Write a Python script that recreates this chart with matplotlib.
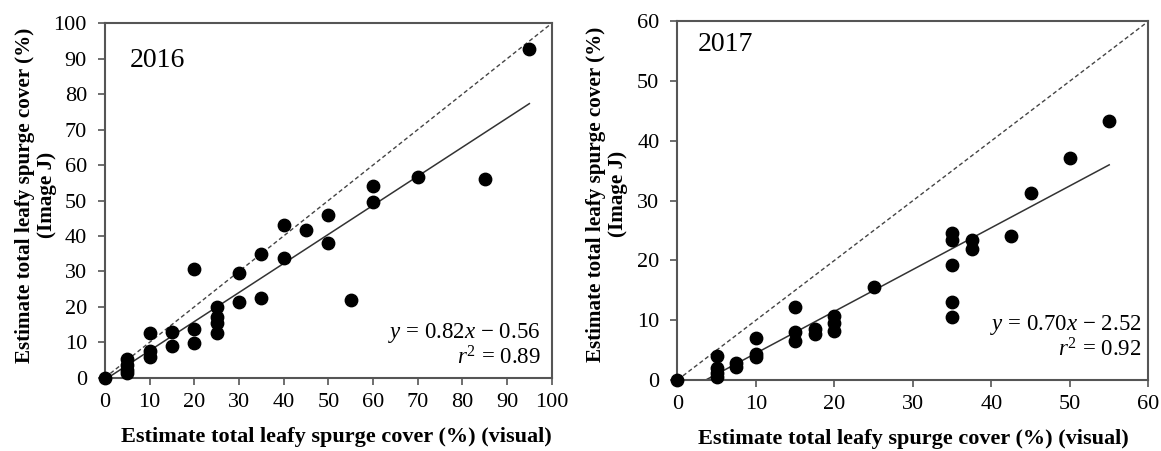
import numpy as np
import matplotlib.pyplot as plt

plt.rcParams['font.family'] = ['Liberation Serif', 'DejaVu Serif']
plt.rcParams['mathtext.fontset'] = 'custom'
plt.rcParams['mathtext.rm'] = 'Liberation Serif'
plt.rcParams['mathtext.it'] = 'Liberation Serif:italic'

# 2016 visual vs Image J estimates
x16 = [0, 5, 5, 5, 5, 10, 10, 10, 15, 15, 20, 20, 20, 25, 25, 25, 25, 30, 30,
       35, 35, 40, 40, 45, 50, 50, 55, 60, 60, 70, 85, 95]
y16 = [0, 5.2, 3.6, 2.2, 1.2, 12.7, 7.5, 5.8, 13.0, 8.9, 30.7, 13.7, 9.7,
       20.0, 17.2, 15.3, 12.7, 29.5, 21.4, 34.9, 22.6, 43.1, 33.9, 41.7,
       45.9, 38.1, 21.9, 54.1, 49.7, 56.5, 56.0, 92.7]

# 2017
x17 = [0, 5, 5, 5, 5, 7.5, 7.5, 10, 10, 10, 15, 15, 15, 17.5, 17.5, 20, 20, 20,
       25, 35, 35, 35, 35, 35, 37.5, 37.5, 42.5, 45, 50, 55]
y17 = [0, 4.0, 2.0, 1.2, 0.5, 2.9, 2.2, 7.0, 4.3, 3.8, 12.2, 8.1, 6.6, 8.6, 7.7,
       10.7, 9.5, 8.2, 15.5, 24.6, 23.4, 19.2, 13.1, 10.5, 23.4, 21.9, 24.1,
       31.3, 37.1, 43.3]

panels = [
    dict(x=x16, y=y16, lim=100, year='2016', slope=0.82, icpt=-0.56, r2='0.89',
         pos=[0.0904, 0.1625, 0.3848, 0.7858], fit_from=0, fit_to=95,
         year_xy=(0.056, 0.895), eq_x=0.975, eq_y=(0.112, 0.038),
         xlab=(0.517, -0.139), ylab=(-0.107, 0.515)),
    dict(x=x17, y=y17, lim=60, year='2017', slope=0.70, icpt=-2.52, r2='0.92',
         pos=[0.5835, 0.1574, 0.4057, 0.7956], fit_from=2.52 / 0.70, fit_to=55,
         year_xy=(0.0435, 0.935), eq_x=0.986, eq_y=(0.138, 0.066),
         xlab=(0.50, -0.136), ylab=(-0.105, 0.518)),
]

fig = plt.figure(figsize=(11.61, 4.51), dpi=100)
spine_col = '#555555'

for p in panels:
    ax = fig.add_axes(p['pos'])
    lim = p['lim']
    ax.plot([0, lim], [0, lim], ls=(0, (3, 2)), color='#444444', lw=1.0, zorder=1)
    fx = np.array([p['fit_from'], p['fit_to']])
    ax.plot(fx, p['slope'] * fx + p['icpt'], color='#333333', lw=1.1, zorder=2)
    ax.scatter(p['x'], p['y'], s=80, color='black', zorder=3, clip_on=False)

    ax.set_xlim(0, lim)
    ax.set_ylim(0, lim)
    ax.set_xticks(np.arange(0, lim + 1, 10))
    ax.set_yticks(np.arange(0, lim + 1, 10))
    ax.tick_params(direction='out', length=5, width=1.2, color=spine_col,
                   labelsize=16)
    ax.tick_params(axis='x', pad=6)
    ax.tick_params(axis='y', pad=8)
    for s in ax.spines.values():
        s.set_color(spine_col)
        s.set_linewidth(1.5)

    ax.set_xlabel('Estimate total leafy spurge cover (%) (visual)',
                  fontsize=16, fontweight='bold')
    ax.xaxis.set_label_coords(*p['xlab'])
    ax.set_ylabel('Estimate total leafy spurge cover (%)\n(Image J)',
                  fontsize=15.2, fontweight='bold', linespacing=1.12)
    ax.yaxis.set_label_coords(*p['ylab'])

    ax.text(*p['year_xy'], p['year'], transform=ax.transAxes, fontsize=20,
            ha='left', va='center')
    eq = r'$y$ = %.2f$x$ − %.2f' % (p['slope'], abs(p['icpt']))
    ax.text(p['eq_x'], p['eq_y'][0], eq, transform=ax.transAxes, fontsize=16.5,
            ha='right', va='baseline')
    ax.text(p['eq_x'], p['eq_y'][1], r'$r^2$ = ' + p['r2'], transform=ax.transAxes,
            fontsize=16.5, ha='right', va='baseline')

fig.savefig('out.png', dpi=100)
